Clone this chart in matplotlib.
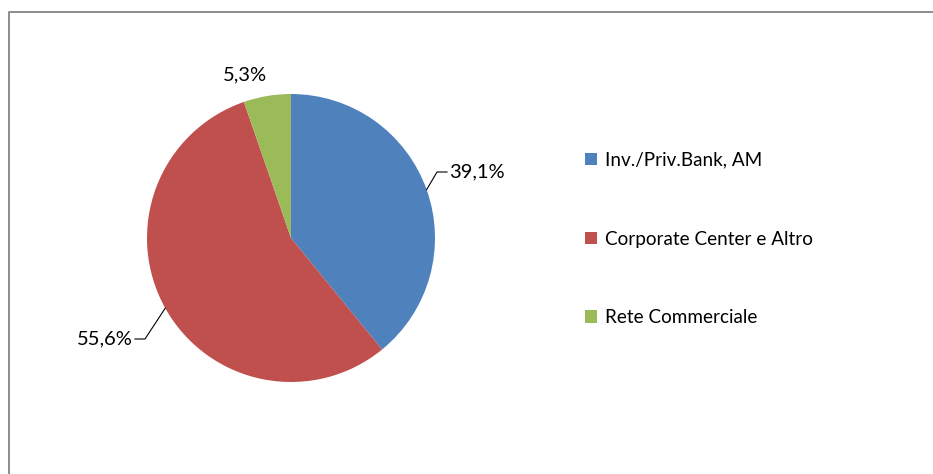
import numpy as np
import matplotlib
matplotlib.use("Agg")
import matplotlib.pyplot as plt
from matplotlib.lines import Line2D

categories = ["Inv./Priv.Bank, AM", "Corporate Center e Altro", "Rete Commerciale"]
values = [39.1, 55.6, 5.3]
value_labels = ["39,1%", "55,6%", "5,3%"]
colors = ["#4F81BD", "#C0504D", "#9BBB59"]

plt.rcParams['font.family'] = ['Lato', 'DejaVu Sans']

W, H = 933, 474
fig = plt.figure(figsize=(W / 100, H / 100), dpi=100)
ax = fig.add_axes([0, 0, 1, 1])

cx, cy, r = 291, 236, 144
wedges, _ = ax.pie(values, colors=colors, startangle=90, counterclock=False,
                   center=(cx, cy), radius=r, frame=True,
                   wedgeprops=dict(linewidth=0))
ax.set_xlim(0, W)
ax.set_ylim(0, H)
ax.set_aspect('equal')
ax.axis('off')

fs_lab = 14.5
fs_leg = 13.6
# label placement: (text x, text y, ha, use leader)
placements = [
    (449, 302, 'left', True),
    (133, 135, 'right', True),
    (245, 399, 'center', False),
]
for w, lab, (tx, ty, ha, leader) in zip(wedges, value_labels, placements):
    ang = np.deg2rad((w.theta1 + w.theta2) / 2)
    ex, ey = cx + r * np.cos(ang), cy + r * np.sin(ang)
    if leader:
        sgn = 1 if ha == 'left' else -1
        elbow_x = tx - sgn * 12
        ax.plot([ex, elbow_x, tx - sgn * 2], [ey, ty, ty], color='black', lw=0.8)
    ax.text(tx, ty, lab, ha=ha, va='center', fontsize=fs_lab, color='black')

leg = ax.legend(wedges, categories, loc='center left',
                bbox_to_anchor=(585 / W, (H - 239) / H),
                bbox_transform=fig.transFigure, frameon=False,
                fontsize=fs_leg, handlelength=0.64, handleheight=0.64,
                handletextpad=0.42, labelspacing=3.27, borderpad=0,
                borderaxespad=0)

# outer chart frame (cut off at right and bottom)
fig.add_artist(Line2D([9 / W, 9 / W, 1.0], [0.0, 1 - 12 / H, 1 - 12 / H],
                      transform=fig.transFigure, color='#8c8c8c', lw=1.4))

fig.savefig("out.png", dpi=100)
